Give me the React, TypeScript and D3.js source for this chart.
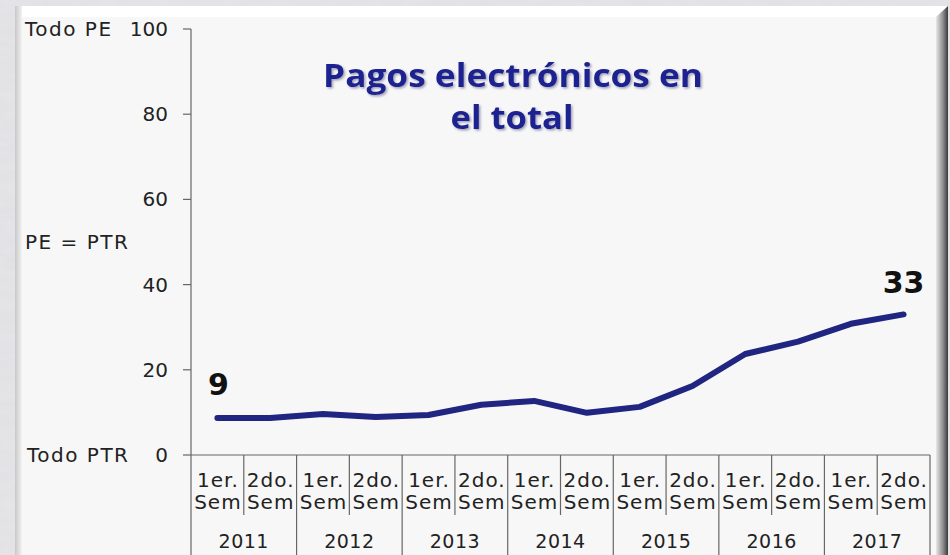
// Pagos electrónicos en el total - semiannual line chart

import * as d3 from "d3";

const years = ["2011", "2012", "2013", "2014", "2015", "2016", "2017"];
const halves = ["1er.", "2do."];
const values = [8.7, 8.7, 9.6, 8.9, 9.4, 11.8, 12.7, 9.9, 11.3, 16.2, 23.7, 26.6, 30.8, 33.0];
const yTicks = [0, 20, 40, 60, 80, 100];

const W = 950;
const H = 555;
const font = "'DejaVu Sans', sans-serif";

export default function App() {
  const periods = years.flatMap((y) => halves.map((h) => `${y}-${h}`));

  const x = d3.scaleBand<string>().domain(periods).range([191, 930]);
  const y = d3.scaleLinear().domain([0, 100]).range([455, 29]);

  const line = d3
    .line<number>()
    .x((_, i) => (x(periods[i]) ?? 0) + x.bandwidth() / 2)
    .y((d) => y(d));

  const yearW = x.bandwidth() * 2;
  const last = values.length - 1;

  return (
    <div style={{ position: "fixed", left: 0, top: 0 }}>
      <svg width={W} height={H} style={{ display: "block" }}>
        <defs>
          <filter id="marble" x="0" y="0" width="100%" height="100%">
            <feTurbulence type="fractalNoise" baseFrequency="0.04 0.12" numOctaves={3} seed={4} />
            <feColorMatrix
              type="matrix"
              values="0 0 0 0 0.55  0 0 0 0 0.55  0 0 0 0 0.58  0 0 0 0.35 0"
            />
          </filter>
          <linearGradient id="leftBevel" x1="0" x2="1" y1="0" y2="0">
            <stop offset="0%" stopColor="#c8c8c8" />
            <stop offset="100%" stopColor="#f2f2f2" />
          </linearGradient>
          <linearGradient id="rightBevel" x1="0" x2="1" y1="0" y2="0">
            <stop offset="0%" stopColor="#e8e8e8" />
            <stop offset="60%" stopColor="#8a8a8a" />
            <stop offset="100%" stopColor="#3a3a3a" />
          </linearGradient>
          <filter id="titleShadow" x="-5%" y="-20%" width="110%" height="140%">
            <feDropShadow dx="1.5" dy="1.5" stdDeviation="1" floodColor="#8a8aa8" floodOpacity="0.8" />
          </filter>
        </defs>

        {/* textured backdrop */}
        <rect width={W} height={H} fill="#e6e6e9" />
        <rect width={W} height={H} filter="url(#marble)" opacity={0.5} />

        {/* panel with bevel */}
        <rect x={15} y={6} width={933} height={H} fill="#f7f7f7" />
        <polygon points="15,6 948,6 936,17 22,17" fill="#ffffff" />
        <rect x={15} y={6} width={7} height={H} fill="url(#leftBevel)" />
        <polygon points="936,17 948,6 948,555 936,555" fill="url(#rightBevel)" />

        {/* title */}
        <g
          fontFamily="'Open Sans', Lato, sans-serif"
          fontWeight="bold"
          fontSize={32}
          fill="#1c2290"
          textAnchor="middle"
          filter="url(#titleShadow)"
        >
          <text x={513} y={87} textLength={380} lengthAdjust="spacingAndGlyphs">
            Pagos electrónicos en
          </text>
          <text x={512} y={129} textLength={123} lengthAdjust="spacingAndGlyphs">
            el total
          </text>
        </g>

        {/* y axis */}
        <line x1={191} x2={191} y1={y(100)} y2={y(0)} stroke="#666" strokeWidth={1.2} />
        {yTicks.map((t) => (
          <g key={t}>
            <line x1={183} x2={191} y1={y(t)} y2={y(t)} stroke="#666" strokeWidth={1.2} />
            <text
              x={168}
              y={y(t)}
              dy="0.35em"
              textAnchor="end"
              fontFamily={font}
              fontSize={20}
              fill="#222"
            >
              {t}
            </text>
          </g>
        ))}
        <g fontFamily={font} fontSize={20} fill="#222" letterSpacing={1.5}>
          <text x={25} y={y(100)} dy="0.35em">Todo PE</text>
          <text x={25} y={y(50)} dy="0.35em">PE = PTR</text>
          <text x={27} y={y(0)} dy="0.35em">Todo PTR</text>
        </g>

        {/* x axis */}
        <line x1={191} x2={930} y1={y(0)} y2={y(0)} stroke="#666" strokeWidth={1.2} />
        {periods.map((p, i) => {
          const x0 = x(p) ?? 0;
          const cx = x0 + x.bandwidth() / 2 + 0.5;
          return (
            <g key={p}>
              {i % 2 === 1 && (
                <line x1={x0} x2={x0} y1={y(0)} y2={515} stroke="#666" strokeWidth={1.2} />
              )}
              <g fontFamily={font} fontSize={20} fill="#222" textAnchor="middle" letterSpacing={1}>
                <text x={cx} y={487}>{halves[i % 2]}</text>
                <text x={cx} y={509}>Sem</text>
              </g>
            </g>
          );
        })}
        {years.map((yr, i) => {
          const x0 = x(periods[i * 2]) ?? 0;
          return (
            <g key={yr}>
              <line x1={x0} x2={x0} y1={y(0)} y2={H} stroke="#666" strokeWidth={1.2} />
              <text
                x={x0 + yearW / 2}
                y={548}
                textAnchor="middle"
                fontFamily={font}
                fontSize={19}
                letterSpacing={0.5}
                fill="#222"
              >
                {yr}
              </text>
            </g>
          );
        })}
        <line x1={930} x2={930} y1={y(0)} y2={H} stroke="#666" strokeWidth={1.2} />

        {/* series */}
        <path
          d={line(values) ?? ""}
          fill="none"
          stroke="#1f2580"
          strokeWidth={6}
          strokeLinejoin="round"
          strokeLinecap="round"
        />

        {/* end labels */}
        <g fontFamily={font} fontWeight="bold" fontSize={30} fill="#111" textAnchor="middle">
          <text x={(x(periods[0]) ?? 0) + x.bandwidth() / 2 + 1} y={y(values[0]) - 23}>
            {Math.round(values[0])}
          </text>
          <text x={(x(periods[last]) ?? 0) + x.bandwidth() / 2} y={y(values[last]) - 21}>
            {Math.round(values[last])}
          </text>
        </g>
      </svg>
    </div>
  );
}
